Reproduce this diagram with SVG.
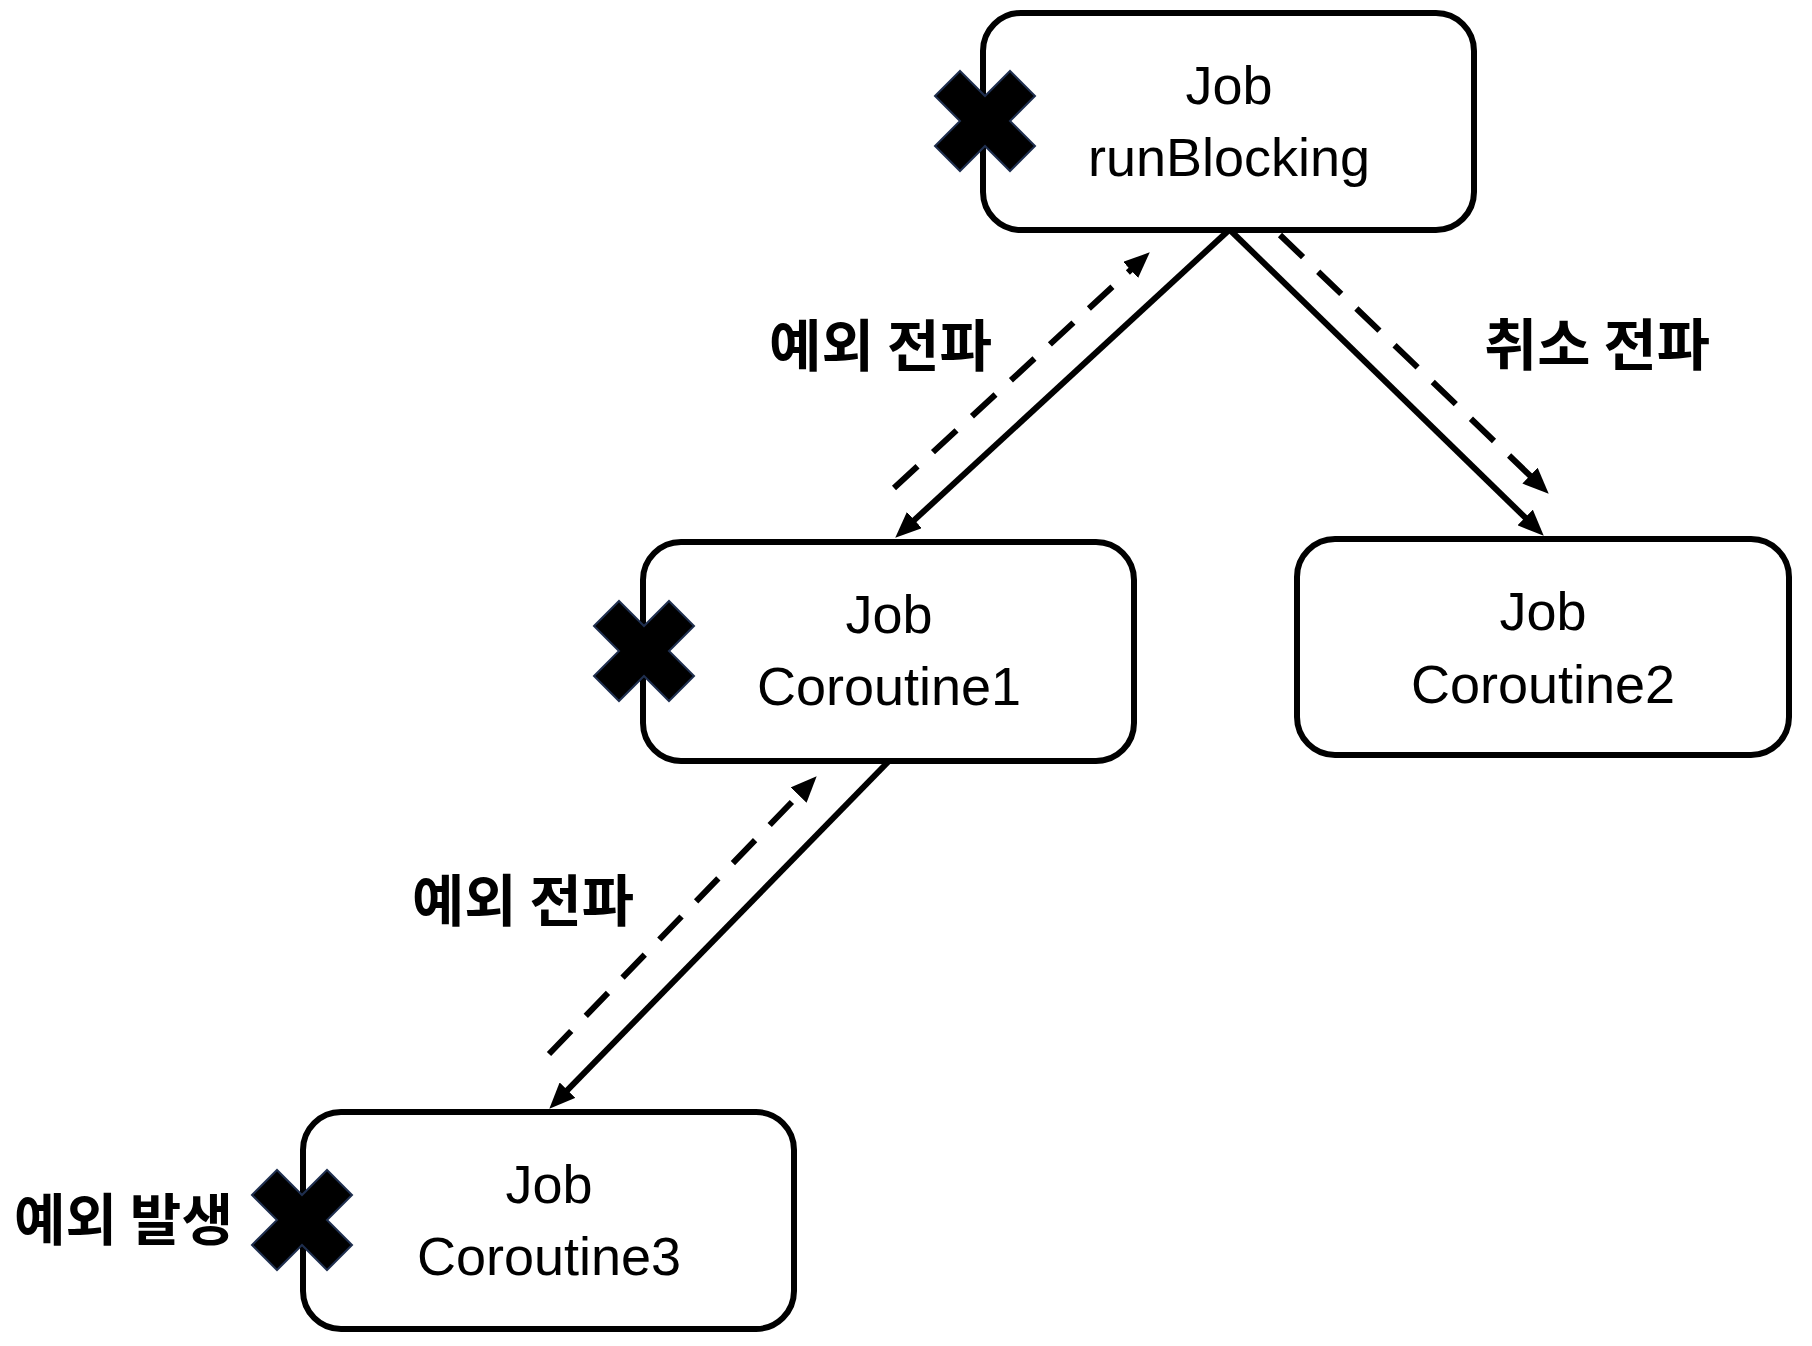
<svg xmlns="http://www.w3.org/2000/svg" width="1812" height="1346" viewBox="0 0 1812 1346">
  <style>
    .box { fill: #ffffff; stroke: #000000; stroke-width: 6; }
    .lbl { font-family: "Liberation Sans", Arial, sans-serif; font-size: 54px; fill: #000000; text-anchor: middle; }
    .ko { font-family: "Noto Sans CJK KR", "Noto Sans", sans-serif; font-weight: 700; font-size: 56px; fill: #000000; }
    .cross { fill: #000000; stroke: #1f2f4f; stroke-width: 2; stroke-linejoin: miter; }
    .solid { fill: none; stroke: #000000; stroke-width: 6; }
    .dash { fill: none; stroke: #000000; stroke-width: 6; stroke-dasharray: 32 21; }
  </style>
  <defs>
    <marker id="ah" viewBox="0 0 26 22" refX="5" refY="11" markerWidth="26" markerHeight="22" markerUnits="userSpaceOnUse" orient="auto">
      <path d="M0,0 L26,11 L0,22 Z" fill="#000000"/>
    </marker>
    <polygon id="x" points="-50,-25 -25,-50 0,-25 25,-50 50,-25 25,0 50,25 25,50 0,25 -25,50 -50,25 -25,0"/>
  </defs>
  <rect width="1812" height="1346" fill="#ffffff"/>

  <g id="connectors">
    <line class="solid" x1="1228" y1="231" x2="910.7" y2="523.4" marker-end="url(#ah)"/>
    <line class="solid" x1="1231" y1="231" x2="1528.7" y2="521" marker-end="url(#ah)"/>
    <line class="dash" x1="894" y1="488" x2="1134.3" y2="266.6" marker-end="url(#ah)"/>
    <line class="dash" x1="1280" y1="235" x2="1533.6" y2="479.1" marker-end="url(#ah)"/>
    <line class="solid" x1="888" y1="762" x2="564" y2="1093.7" marker-end="url(#ah)"/>
    <line class="dash" x1="549" y1="1054" x2="802.1" y2="791.4" marker-end="url(#ah)"/>
  </g>

  <g id="node-runBlocking">
    <rect class="box" x="983" y="13" width="491" height="217" rx="38" ry="38"/>
    <text class="lbl" x="1229" y="104">Job</text>
    <text class="lbl" x="1229" y="176">runBlocking</text>
    <use href="#x" class="cross" x="985" y="121"/>
  </g>

  <g id="node-coroutine1">
    <rect class="box" x="643" y="542" width="491" height="219" rx="38" ry="38"/>
    <text class="lbl" x="889" y="633">Job</text>
    <text class="lbl" x="889" y="705">Coroutine1</text>
    <use href="#x" class="cross" x="644" y="651"/>
  </g>

  <g id="node-coroutine2">
    <rect class="box" x="1297" y="539" width="492" height="216" rx="38" ry="38"/>
    <text class="lbl" x="1543" y="630">Job</text>
    <text class="lbl" x="1543" y="703">Coroutine2</text>
  </g>

  <g id="node-coroutine3">
    <rect class="box" x="303" y="1112" width="491" height="217" rx="38" ry="38"/>
    <text class="lbl" x="549" y="1203">Job</text>
    <text class="lbl" x="549" y="1275">Coroutine3</text>
    <use href="#x" class="cross" x="302" y="1220"/>
  </g>

  <g id="labels">
    <text class="ko" x="769" y="366" textLength="223" lengthAdjust="spacingAndGlyphs">예외 전파</text>
    <text class="ko" x="1484" y="365" textLength="226" lengthAdjust="spacingAndGlyphs">취소 전파</text>
    <text class="ko" x="412" y="921" textLength="222" lengthAdjust="spacingAndGlyphs">예외 전파</text>
    <text class="ko" x="14" y="1240" textLength="219" lengthAdjust="spacingAndGlyphs">예외 발생</text>
  </g>
</svg>
